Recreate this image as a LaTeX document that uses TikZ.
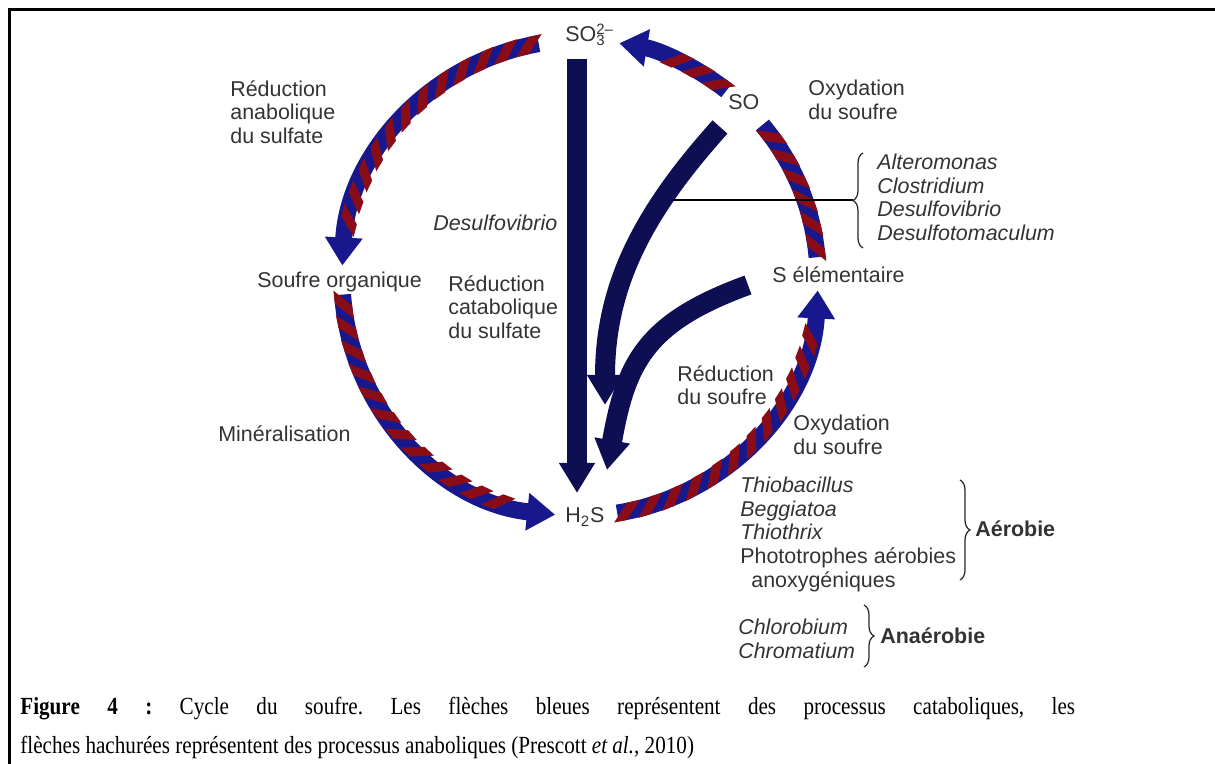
\documentclass[tikz,border=0pt]{standalone}
\usepackage{fontspec}
\setmainfont{Liberation Sans}
\newfontfamily\capfont{Liberation Serif}[FakeStretch=0.86]
\usetikzlibrary{arrows.meta, decorations.pathreplacing, decorations.markings}
\definecolor{hblue}{RGB}{24,24,142}
\definecolor{hred}{RGB}{138,12,22}
\definecolor{navy}{RGB}{14,14,82}

\begin{document}
\begin{tikzpicture}[x=0.02cm, y=0.02cm,
    lbl/.style = {inner sep=0, text=black!80, font=\fontsize{12.2}{13.4}\selectfont},
    multi/.style = {lbl, anchor=north west, align=left},
    one/.style = {lbl, anchor=base west},
    band/.style = {draw=hblue, line width=0.34cm,
      postaction={decorate, decoration={markings,
        mark=between positions 0.2cm and #1 step 0.48cm with {\fill[hred] (-0.3cm,-0.17cm) -- (-0.04cm,-0.17cm) -- (0.3cm,0.17cm) -- (0.04cm,0.17cm) -- cycle;}}}},
    band/.default = -0.85cm,
    hatch/.style = {band, -{Triangle[width=0.72cm, length=0.56cm]}},
    cata/.style = {draw=navy, line width=0.4cm, -{Triangle[width=0.68cm, length=0.6cm]}},
    brc/.style = {decorate, decoration={brace, amplitude=0.2cm}, line width=0.7pt, black!85}]
  \useasboundingbox (0, 0) rectangle (1215, 764);
  \draw[line width=0.05cm] (9.5, 0) -- (9.5, 754.5) -- (1215, 754.5);

  \node[one] at (565, 722) (so3) {SO\rlap{\textsuperscript{2--}}\textsubscript{3}};
  \node[one] at (728, 654) (so) {SO};
  \node[one] at (257, 476) (sorg) {Soufre organique};
  \node[one] at (772, 481) (selem) {S élémentaire};
  \node[one] at (565, 241) (h2s) {H\textsubscript{2}S};
  \node[one] at (433, 533) (desulf) {\itshape Desulfovibrio};
  \node[one] at (218, 322) (miner) {Minéralisation};
  \node[multi] at (230, 684) (anared) {Réduction\\anabolique\\du sulfate};
  \node[multi] at (808, 684) (oxtop) {Oxydation\\du soufre};
  \node[multi] at (448, 489) (catred) {Réduction\\catabolique\\du sulfate};
  \node[multi] at (677, 399) (sred) {Réduction\\du soufre};
  \node[multi] at (793, 349) (oxbot) {Oxydation\\du soufre};
  \node[multi] at (877, 610) (bact1) {\itshape Alteromonas\\\itshape Clostridium\\\itshape Desulfovibrio\\\itshape Desulfotomaculum};
  \node[multi] at (740, 287) (bact2) {\itshape Thiobacillus\\\itshape Beggiatoa\\\itshape Thiothrix\\Phototrophes aérobies\\\hspace{0.22cm}anoxygéniques};
  \node[multi] at (738, 145) (bact3) {\itshape Chlorobium\\\itshape Chromatium};
  \node[one, font=\fontsize{12.2}{13.4}\selectfont\bfseries] at (975, 227) (aer) {Aérobie};
  \node[one, font=\fontsize{12.2}{13.4}\selectfont\bfseries] at (880, 120) (anaer) {Anaérobie};

  \coordinate (c) at (580, 486);
  \coordinate (p1) at ([shift={(100:238)}]c);
  \coordinate (p2) at ([shift={(184:238)}]c);
  \coordinate (p3) at ([shift={(279:238)}]c);
  \coordinate (p4) at ([shift={(5:238)}]c);
  \coordinate (p5) at ([shift={(52:238)}]c);

  \draw[hatch] (p1) arc (100:177:238);
  \draw[hatch] (p2) arc (184:264:238);
  \draw[hatch] (p3) arc (279:357:238);
  \draw[band=-0.2cm] (p4) arc (5:40:238);
  \draw[hatch] (p5) arc (52:80.5:238);

  \coordinate (a0) at (577, 705);
  \coordinate (a1) at (577, 271);
  \coordinate (b0) at (720, 637);
  \coordinate (b1) at (605, 359);
  \coordinate (e0) at (748, 479);
  \coordinate (e1) at (607, 294);
  \draw[cata] (a0) -- (a1);
  \draw[cata] (b0) to[out=228, in=90] (b1);
  \draw[cata] (e0) to[out=200, in=80, looseness=1.2] (e1);

  \coordinate (lk) at (673, 564);
  \coordinate (bt) at (853, 564);
  \draw[line width=0.6pt] (lk) -- (bt);
  \draw[brc] (863, 516) -- (863, 611);
  \draw[brc] (960, 284) -- (960, 184);
  \draw[brc] (864, 159) -- (864, 97);

  \node[anchor=north west, inner sep=0, text width=21.1cm, align=justify,
        font=\capfont\fontsize{14}{22.1}\selectfont] at (20, 67) (cap)
    {\frenchspacing\textbf{Figure 4 :} Cycle du soufre. Les flèches bleues représentent des processus cataboliques, les\linebreak
     flèches hachurées représentent des processus anaboliques (Prescott \textit{et al.}, 2010)};
\end{tikzpicture}
\end{document}
